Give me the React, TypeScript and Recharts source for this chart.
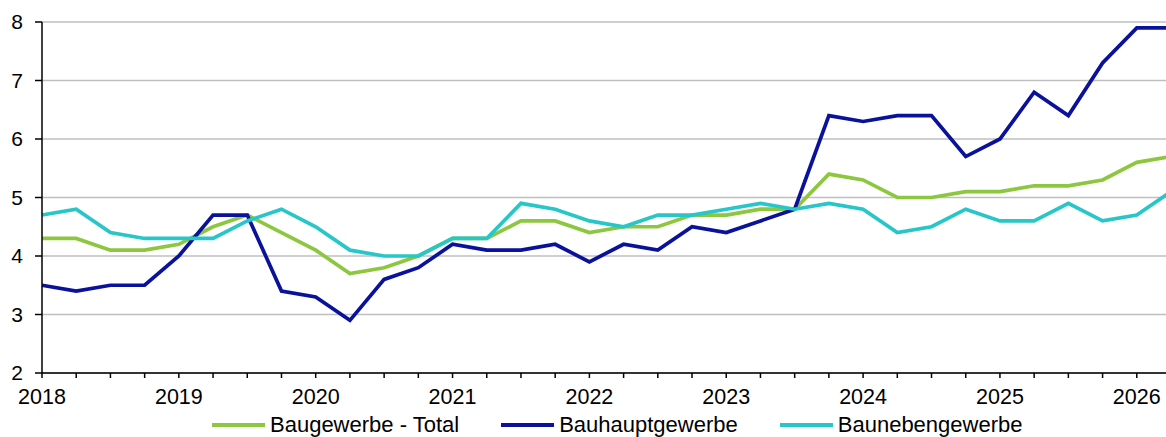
import { LineChart, Line, XAxis, YAxis, CartesianGrid, Legend } from "recharts";

const quarters = [
  "2018Q1", "2018Q2", "2018Q3", "2018Q4",
  "2019Q1", "2019Q2", "2019Q3", "2019Q4",
  "2020Q1", "2020Q2", "2020Q3", "2020Q4",
  "2021Q1", "2021Q2", "2021Q3", "2021Q4",
  "2022Q1", "2022Q2", "2022Q3", "2022Q4",
  "2023Q1", "2023Q2", "2023Q3", "2023Q4",
  "2024Q1", "2024Q2", "2024Q3", "2024Q4",
  "2025Q1", "2025Q2", "2025Q3", "2025Q4",
  "2026Q1", "2026Q2",
];

// Baugewerbe - Total
const total = [
  4.3, 4.3, 4.1, 4.1,
  4.2, 4.5, 4.7, 4.4,
  4.1, 3.7, 3.8, 4.0,
  4.3, 4.3, 4.6, 4.6,
  4.4, 4.5, 4.5, 4.7,
  4.7, 4.8, 4.8, 5.4,
  5.3, 5.0, 5.0, 5.1,
  5.1, 5.2, 5.2, 5.3,
  5.6, 5.7,
];

// Bauhauptgewerbe
const haupt = [
  3.5, 3.4, 3.5, 3.5,
  4.0, 4.7, 4.7, 3.4,
  3.3, 2.9, 3.6, 3.8,
  4.2, 4.1, 4.1, 4.2,
  3.9, 4.2, 4.1, 4.5,
  4.4, 4.6, 4.8, 6.4,
  6.3, 6.4, 6.4, 5.7,
  6.0, 6.8, 6.4, 7.3,
  7.9, 7.9,
];

// Baunebengewerbe
const neben = [
  4.7, 4.8, 4.4, 4.3,
  4.3, 4.3, 4.6, 4.8,
  4.5, 4.1, 4.0, 4.0,
  4.3, 4.3, 4.9, 4.8,
  4.6, 4.5, 4.7, 4.7,
  4.8, 4.9, 4.8, 4.9,
  4.8, 4.4, 4.5, 4.8,
  4.6, 4.6, 4.9, 4.6,
  4.7, 5.1,
];

const yTicks = [2, 3, 4, 5, 6, 7, 8];

const GREEN = "#8DC73F";
const NAVY = "#0A129C";
const CYAN = "#27C6C9";
const FONT = "'Liberation Sans', Arial, sans-serif";

const data = quarters.map((q, i) => ({
  q,
  total: total[i],
  haupt: haupt[i],
  neben: neben[i],
}));

function renderLegend(props: any) {
  const payload = props.payload || [];
  return (
    <div
      style={{
        display: "flex",
        alignItems: "center",
        height: 24,
        paddingLeft: 212,
        fontFamily: FONT,
        fontSize: 22,
        color: "#000",
      }}
    >
      {payload.map((entry: any) => (
        <div
          key={entry.value}
          style={{ display: "flex", alignItems: "center", marginRight: 42 }}
        >
          <svg width={53} height={6}>
            <line x1={0} y1={3} x2={53} y2={3} stroke={entry.color} strokeWidth={4} />
          </svg>
          <span style={{ marginLeft: 5, whiteSpace: "nowrap" }}>{entry.value}</span>
        </div>
      ))}
    </div>
  );
}

export default function App() {
  return (
    <div
      style={{
        position: "absolute",
        left: 0,
        top: 0,
        width: 1166,
        height: 437,
        overflow: "hidden",
        background: "#fff",
      }}
    >
      <LineChart
        width={1181}
        height={437}
        data={data}
        margin={{ top: 22, right: 10, left: 0, bottom: 0 }}
      >
        <CartesianGrid vertical={false} stroke="#BFBFBF" strokeWidth={1.5} />
        <XAxis
          dataKey="q"
          interval={0}
          height={40}
          tickSize={5}
          tickMargin={11}
          tickFormatter={(v: string) => (v.endsWith("Q1") ? v.slice(0, 4) : "")}
          tick={{ fill: "#000", fontSize: 21.5, fontFamily: FONT }}
          axisLine={{ stroke: "#000", strokeWidth: 1.5 }}
          tickLine={{ stroke: "#000", strokeWidth: 1.5 }}
        />
        <YAxis
          width={42}
          domain={[2, 8]}
          ticks={yTicks}
          interval={0}
          tickSize={7}
          tickMargin={12}
          tick={{ fill: "#000", fontSize: 21, fontFamily: FONT }}
          axisLine={{ stroke: "#000", strokeWidth: 1.5 }}
          tickLine={{ stroke: "#000", strokeWidth: 1.5 }}
        />
        <Legend
          verticalAlign="bottom"
          align="left"
          content={renderLegend}
          wrapperStyle={{ left: 0 }}
        />
        <Line
          type="linear"
          dataKey="total"
          name="Baugewerbe - Total"
          stroke={GREEN}
          strokeWidth={3.7}
          dot={false}
          activeDot={false}
          isAnimationActive={false}
        />
        <Line
          type="linear"
          dataKey="haupt"
          name="Bauhauptgewerbe"
          stroke={NAVY}
          strokeWidth={3.7}
          dot={false}
          activeDot={false}
          isAnimationActive={false}
        />
        <Line
          type="linear"
          dataKey="neben"
          name="Baunebengewerbe"
          stroke={CYAN}
          strokeWidth={3.7}
          dot={false}
          activeDot={false}
          isAnimationActive={false}
        />
      </LineChart>
    </div>
  );
}
